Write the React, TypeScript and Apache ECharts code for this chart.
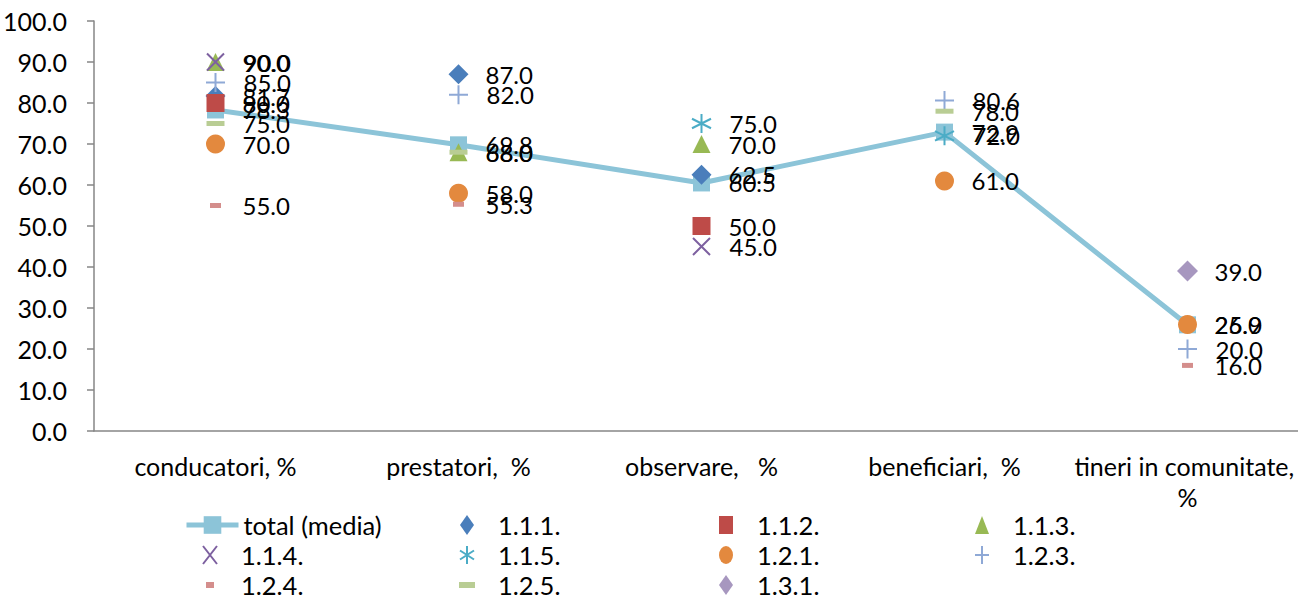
import React, { useEffect, useRef } from 'react';
import * as echarts from 'echarts';

const categories = ['conducatori, %', 'prestatori,  %', 'observare,   %', 'beneficiari,  %', 'tineri in comunitate, %'];
const totalMedia = [78.3, 69.8, 60.5, 72.9, 25.9];
const s111 = [81.7, 87.0, 62.5, null, null];
const s112 = [80.0, null, 50.0, null, null];
const s113 = [90.0, 68.0, 70.0, null, null];
const s114 = [90.0, null, 45.0, null, null];
const s115 = [null, null, 75.0, 72.0, null];
const s121 = [70.0, 58.0, null, 61.0, 26.0];
const s123 = [85.0, 82.0, null, 80.6, 20.0];
const s124 = [55.0, 55.3, null, null, 16.0];
const s125 = [75.0, 68.0, null, 78.0, null];
const s131 = [null, null, null, null, 39.0];

const FONT = 'Lato, "Liberation Sans", sans-serif';
const FS_AXIS = 25;
const FS_LABEL = 24;
const FS_LEGEND = 25.5;

type Spec = {
  name: string;
  data: (number | null)[];
  symbol: string;
  size: [number, number];
  color: string;
  stroke?: boolean;
  icon: string;
  iconW: number;
  iconH: number;
  col: number;
  row: number;
};

const specs: Spec[] = [
  { name: '1.1.1.', data: s111, symbol: 'diamond', size: [20, 20], color: '#4A7EBB', icon: 'path://M7,0L14,10L7,20L0,10Z', iconW: 14, iconH: 20, col: 1, row: 0 },
  { name: '1.1.2.', data: s112, symbol: 'rect', size: [18, 18], color: '#BE4B48', icon: 'path://M0,0H14V18H0Z', iconW: 14, iconH: 18, col: 2, row: 0 },
  { name: '1.1.3.', data: s113, symbol: 'triangle', size: [18, 18], color: '#98B954', icon: 'path://M7,0L14,18L0,18Z', iconW: 14, iconH: 18, col: 3, row: 0 },
  { name: '1.1.4.', data: s114, symbol: 'path://M0,0L10,10M10,0L0,10', size: [17, 17], color: '#7D60A0', stroke: true, icon: 'path://M0,0L14,18M14,0L0,18', iconW: 16, iconH: 18, col: 0, row: 1 },
  { name: '1.1.5.', data: s115, symbol: 'path://M5,0L5,10M0,2.5L10,7.5M0,7.5L10,2.5', size: [19, 19], color: '#4BACC6', stroke: true, icon: 'path://M7,0L7,18M0,4.5L14,13.5M0,13.5L14,4.5', iconW: 16, iconH: 18, col: 1, row: 1 },
  { name: '1.2.1.', data: s121, symbol: 'circle', size: [19, 19], color: '#E3893E', icon: 'path://M7,0A7,9,0,1,1,7,18A7,9,0,1,1,7,0Z', iconW: 14, iconH: 18, col: 2, row: 1 },
  { name: '1.2.3.', data: s123, symbol: 'path://M5,0L5,10M0,5L10,5', size: [19, 19], color: '#8FA9D6', stroke: true, icon: 'path://M7,0L7,18M0,9L14,9', iconW: 16, iconH: 18, col: 3, row: 1 },
  { name: '1.2.4.', data: s124, symbol: 'rect', size: [11, 5], color: '#D48E8C', icon: 'path://M0,0H8V6H0Z', iconW: 8, iconH: 6, col: 0, row: 2 },
  { name: '1.2.5.', data: s125, symbol: 'rect', size: [18, 5], color: '#B9CD94', icon: 'path://M0,0H16V6H0Z', iconW: 16, iconH: 6, col: 1, row: 2 },
  { name: '1.3.1.', data: s131, symbol: 'diamond', size: [21, 21], color: '#A797BF', icon: 'path://M7,0L14,10L7,20L0,10Z', iconW: 14, iconH: 20, col: 2, row: 2 },
];

const TOTAL_COLOR = '#8CC4D8';
const colTextX = [241, 498, 757, 1013];
const rowY = [525, 555, 585];

const fmt = (p: any) => {
  const v = Array.isArray(p.value) ? p.value[1] : p.value;
  return typeof v === 'number' ? v.toFixed(1) : '';
};

export default function App() {
  const ref = useRef<HTMLDivElement>(null);
  useEffect(() => {
    if (!ref.current) return;
    const chart = echarts.init(ref.current, undefined, { renderer: 'svg' });
    const labelBase = { show: true, position: 'right', color: '#000', fontFamily: FONT, fontSize: FS_LABEL, formatter: fmt };
    const textStyle = { color: '#000', fontFamily: FONT, fontSize: FS_LEGEND, lineHeight: 28 };

    const series: any[] = [
      {
        name: 'total (media)',
        type: 'line',
        data: totalMedia,
        symbol: 'rect',
        symbolSize: 17,
        lineStyle: { width: 5, color: TOTAL_COLOR },
        itemStyle: { color: TOTAL_COLOR, opacity: 1 },
        label: { ...labelBase, distance: 27 - 8.5 },
        z: 2,
      },
      ...specs.map((s) => ({
        name: s.name,
        type: 'scatter',
        data: s.data.map((v) => (v === null ? '-' : v)),
        symbol: s.symbol,
        symbolSize: s.size,
        itemStyle: s.stroke
          ? { color: 'transparent', borderColor: s.color, borderWidth: 2, opacity: 1 }
          : { color: s.color, opacity: 1 },
        label: { ...labelBase, distance: 27 - s.size[0] / 2 },
        z: 3,
      })),
    ];

    const legends: any[] = [
      {
        data: ['total (media)'],
        left: colTextX[0] - 57,
        top: rowY[0] - 14,
        padding: 0,
        itemWidth: 52,
        itemHeight: 22,
        itemGap: 0,
        selectedMode: false,
        lineStyle: { width: 5 },
        textStyle,
      },
      ...specs.map((s) => ({
        data: [{ name: s.name, icon: s.icon }],
        left: colTextX[s.col] - 31 - s.iconW / 2,
        top: rowY[s.row] - 14,
        padding: 0,
        itemWidth: 52,
        itemHeight: s.iconH,
        itemGap: 0,
        selectedMode: false,
        symbolKeepAspect: true,
        itemStyle: s.stroke
          ? { borderWidth: 2, borderColor: s.color, color: 'transparent', opacity: 1 }
          : { color: s.color, opacity: 1 },
        textStyle,
      })),
    ];

    chart.setOption({
      animation: false,
      backgroundColor: '#fff',
      grid: { left: 94, top: 21, width: 1215, height: 410, containLabel: false, outerBoundsMode: 'none' },
      legend: legends,
      xAxis: {
        type: 'category',
        data: categories,
        axisLine: { lineStyle: { color: '#868686', width: 1.5 } },
        axisTick: { show: false },
        splitLine: { show: false },
        axisLabel: {
          interval: 0,
          color: '#000',
          fontFamily: FONT,
          fontSize: FS_AXIS,
          margin: 19,
          lineHeight: 31,
          width: 228,
          overflow: 'break',
        },
      },
      yAxis: {
        type: 'value',
        min: 0,
        max: 100,
        interval: 10,
        axisLine: { show: true, lineStyle: { color: '#868686', width: 1.5 } },
        axisTick: { show: true, length: 7, lineStyle: { color: '#868686', width: 1.5 } },
        splitLine: { show: false },
        axisLabel: {
          color: '#000',
          fontFamily: FONT,
          fontSize: FS_AXIS,
          margin: 27,
          formatter: (v: number) => v.toFixed(1),
        },
      },
      series,
    });
    return () => chart.dispose();
  }, []);
  return <div ref={ref} style={{ position: 'fixed', left: 0, top: 0, width: 1298, height: 599 }} />;
}
